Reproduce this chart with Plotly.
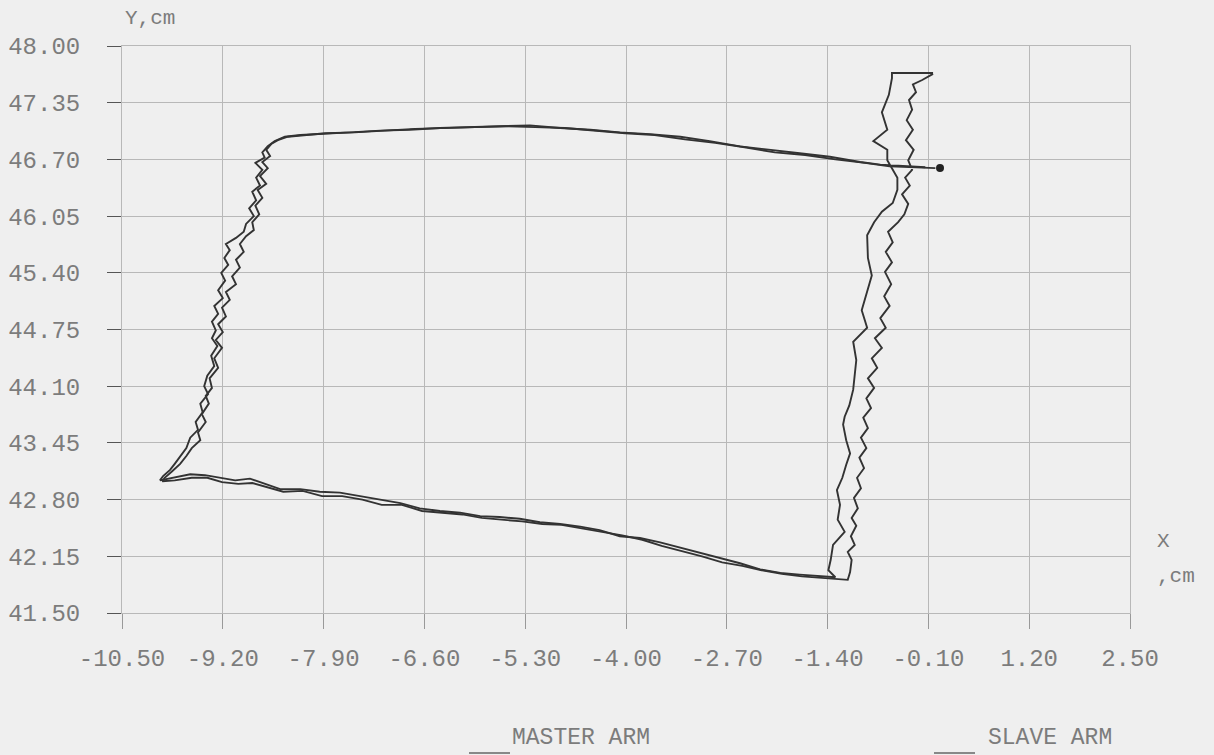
import plotly.graph_objects as go

# ---- axis ticks ----
x_ticks = [-10.50, -9.20, -7.90, -6.60, -5.30, -4.00, -2.70, -1.40, -0.10, 1.20, 2.50]
y_ticks = [41.50, 42.15, 42.80, 43.45, 44.10, 44.75, 45.40, 46.05, 46.70, 47.35, 48.00]
x_tick_text = ["-10.50", "-9.20", "-7.90", "-6.60", "-5.30", "-4.00", "-2.70", "-1.40", "-0.10", "1.20", "2.50"]
y_tick_text = ["41.50", "42.15", "42.80", "43.45", "44.10", "44.75", "45.40", "46.05", "46.70", "47.35", "48.00"]

# ---- MASTER ARM trajectory (cm) ----
master_x = [
    -0.14, -0.40, -0.72, -0.98, -1.37, -1.76, -2.14, -2.53, -2.92, -3.30, -3.69, -4.08, -4.46,
    -4.85, -5.24, -5.63, -6.01, -6.40, -6.79, -7.17, -7.56, -7.95, -8.20, -8.40, -8.53,
    -8.62, -8.69, -8.66, -8.78, -8.69, -8.77, -8.72, -8.82, -8.77, -8.86, -8.80, -8.90, -8.93,
    -9.03, -9.16, -9.11, -9.18, -9.13, -9.22, -9.17, -9.26, -9.20, -9.31, -9.26, -9.34, -9.29,
    -9.34, -9.27, -9.35, -9.31, -9.40, -9.44, -9.39, -9.49, -9.46, -9.55, -9.52, -9.62, -9.67,
    -9.75, -9.82, -9.88, -9.97, -10.01,
    -9.86, -9.62, -9.43, -9.24, -9.04, -8.85, -8.66, -8.46, -8.20, -7.95, -7.69, -7.43, -7.17,
    -6.91, -6.66, -6.40, -6.14, -5.88, -5.63, -5.37, -5.11, -4.85, -4.59, -4.34, -4.08, -3.82,
    -3.56, -3.30, -3.05, -2.79, -2.53, -2.27, -2.01, -1.76, -1.50, -1.30,
    -1.39, -1.36, -1.33, -1.18, -1.27, -1.24, -1.28, -1.21, -1.16, -1.11, -1.16, -1.20, -1.18,
    -1.12, -1.07, -1.05, -1.03, -1.07, -0.89, -0.96, -0.90, -0.83, -0.88, -0.89, -0.80, -0.70,
    -0.56, -0.50, -0.50, -0.56, -0.63, -0.63, -0.81, -0.63, -0.70, -0.61, -0.57, -0.57, -0.31, -0.04,
]
master_y = [
    46.61, 46.62, 46.64, 46.67, 46.73, 46.77, 46.81, 46.85, 46.91, 46.96, 46.99, 47.01, 47.04,
    47.06, 47.09, 47.08, 47.07, 47.06, 47.04, 47.03, 47.01, 46.99, 46.98, 46.96, 46.91,
    46.85, 46.78, 46.72, 46.66, 46.58, 46.49, 46.40, 46.33, 46.23, 46.14, 46.05, 45.96, 45.87,
    45.80, 45.73, 45.66, 45.57, 45.49, 45.40, 45.31, 45.20, 45.11, 45.02, 44.93, 44.84, 44.74,
    44.65, 44.56, 44.45, 44.33, 44.22, 44.10, 44.01, 43.90, 43.80, 43.69, 43.60, 43.51, 43.39,
    43.30, 43.21, 43.14, 43.07, 43.02,
    43.05, 43.09, 43.08, 43.05, 43.02, 43.04, 42.98, 42.92, 42.92, 42.89, 42.88, 42.84, 42.80,
    42.76, 42.70, 42.67, 42.65, 42.61, 42.60, 42.58, 42.54, 42.52, 42.49, 42.45, 42.38, 42.36,
    42.31, 42.25, 42.19, 42.13, 42.07, 42.00, 41.96, 41.94, 41.92, 41.91,
    41.99, 42.11, 42.28, 42.43, 42.57, 42.74, 42.91, 43.05, 43.20, 43.33, 43.48, 43.66, 43.75,
    43.88, 44.06, 44.23, 44.40, 44.61, 44.77, 44.97, 45.15, 45.37, 45.57, 45.83, 45.98, 46.10,
    46.20, 46.35, 46.49, 46.58, 46.69, 46.81, 46.91, 47.04, 47.24, 47.44, 47.63, 47.69, 47.69, 47.69,
]

# ---- SLAVE ARM trajectory (cm) ----
slave_x = [
    -0.01, -0.27, -0.60, -0.92, -1.30, -1.69, -2.08, -2.47, -2.85, -3.24, -3.63, -4.01, -4.40,
    -4.79, -5.17, -5.56, -5.95, -6.33, -6.72, -7.11, -7.50, -7.88, -8.14, -8.36, -8.49,
    -8.57, -8.64, -8.59, -8.69, -8.62, -8.72, -8.64, -8.75, -8.69, -8.78, -8.73, -8.82, -8.80,
    -8.90, -8.98, -8.93, -9.03, -8.98, -9.08, -9.03, -9.16, -9.11, -9.21, -9.16, -9.26, -9.20,
    -9.29, -9.21, -9.31, -9.26, -9.37, -9.34, -9.42, -9.38, -9.47, -9.42, -9.52, -9.49, -9.60,
    -9.67, -9.75, -9.86, -9.95, -9.98,
    -9.82, -9.60, -9.40, -9.21, -9.00, -8.82, -8.62, -8.42, -8.17, -7.92, -7.66, -7.40, -7.15,
    -6.89, -6.63, -6.37, -6.11, -5.86, -5.60, -5.34, -5.08, -4.83, -4.57, -4.31, -4.05, -3.79,
    -3.54, -3.28, -3.02, -2.76, -2.50, -2.25, -1.99, -1.73, -1.47, -1.24, -1.14,
    -1.11, -1.09, -1.14, -1.05, -1.10, -1.03, -1.09, -1.01, -1.06, -0.97, -1.02, -0.93, -0.99,
    -0.90, -0.97, -0.88, -0.94, -0.84, -0.90, -0.80, -0.88, -0.76, -0.83, -0.70, -0.79, -0.65,
    -0.72, -0.60, -0.67, -0.58, -0.66, -0.57, -0.65, -0.56, -0.62, -0.49, -0.41, -0.36, -0.44,
    -0.34, -0.40, -0.31, -0.36, -0.29, -0.39, -0.30, -0.38, -0.31, -0.35, -0.26, -0.30, -0.18, -0.04,
]
slave_y = [
    46.60, 46.61, 46.62, 46.66, 46.70, 46.75, 46.78, 46.84, 46.89, 46.93, 46.98, 47.00, 47.03,
    47.06, 47.07, 47.08, 47.07, 47.06, 47.05, 47.03, 47.01, 47.00, 46.98, 46.96, 46.92,
    46.88, 46.81, 46.74, 46.67, 46.60, 46.51, 46.42, 46.35, 46.26, 46.17, 46.07, 45.98, 45.89,
    45.82, 45.73, 45.64, 45.55, 45.46, 45.36, 45.27, 45.18, 45.09, 45.00, 44.90, 44.81, 44.72,
    44.63, 44.54, 44.42, 44.31, 44.19, 44.08, 43.99, 43.90, 43.78, 43.69, 43.57, 43.48, 43.39,
    43.30, 43.21, 43.12, 43.05, 43.01,
    43.02, 43.05, 43.05, 43.00, 42.98, 42.99, 42.94, 42.89, 42.90, 42.84, 42.84, 42.80, 42.74,
    42.74, 42.67, 42.65, 42.63, 42.59, 42.57, 42.55, 42.52, 42.51, 42.47, 42.43, 42.39, 42.34,
    42.27, 42.21, 42.15, 42.08, 42.04, 41.99, 41.95, 41.92, 41.90, 41.89, 41.88,
    41.97, 42.11, 42.20, 42.28, 42.38, 42.50, 42.59, 42.70, 42.82, 42.93, 43.05, 43.16, 43.28,
    43.39, 43.51, 43.62, 43.74, 43.85, 43.96, 44.08, 44.19, 44.31, 44.42, 44.54, 44.65, 44.77,
    44.88, 45.02, 45.13, 45.27, 45.41, 45.52, 45.64, 45.75, 45.87, 45.98, 46.07, 46.19, 46.30,
    46.40, 46.49, 46.58, 46.69, 46.81, 46.92, 47.04, 47.15, 47.27, 47.38, 47.47, 47.56, 47.61, 47.68,
]

# start point marker
start_x = [0.05]
start_y = [46.60]

LINE = "#333333"
GRID = "#b8b8b8"
TXT = "#7c7c7c"
FONT = "Liberation Mono, DejaVu Sans Mono, monospace"

fig = go.Figure()
fig.add_trace(go.Scatter(x=master_x, y=master_y, mode="lines", name="MASTER ARM",
                         line=dict(color=LINE, width=1.9), showlegend=False))
fig.add_trace(go.Scatter(x=slave_x, y=slave_y, mode="lines", name="SLAVE ARM",
                         line=dict(color=LINE, width=1.9), showlegend=False))
fig.add_trace(go.Scatter(x=start_x, y=start_y, mode="markers", name="start",
                         marker=dict(color="#222", size=8), showlegend=False))

fig.update_xaxes(range=[-10.5, 2.5], tickvals=x_ticks, ticktext=x_tick_text,
                 showgrid=True, gridcolor=GRID, gridwidth=1, zeroline=False,
                 showline=True, linecolor=GRID, mirror=True, automargin=False,
                 ticks="outside", ticklen=15, tickcolor="#999", tickwidth=1,
                 ticklabelstandoff=8,
                 tickfont=dict(family=FONT, size=24, color=TXT))
fig.update_yaxes(range=[41.5, 48.0], tickvals=y_ticks, ticktext=y_tick_text,
                 showgrid=True, gridcolor=GRID, gridwidth=1, zeroline=False,
                 showline=True, linecolor=GRID, mirror=True, automargin=False,
                 ticks="outside", ticklen=14, tickcolor="#555", tickwidth=1,
                 ticklabelstandoff=22,
                 tickfont=dict(family=FONT, size=24, color=TXT))

ann = dict(xref="paper", yref="paper", showarrow=False, xanchor="center", yanchor="middle",
           font=dict(family=FONT, size=21, color=TXT))
fig.add_annotation(text="Y,cm", x=(150 - 122) / 1008, y=1 + (46 - 19) / 567, **ann)
fig.add_annotation(text="X", x=(1163 - 122) / 1008, y=(613 - 541) / 567, **ann)
fig.add_annotation(text=",cm", x=(1176 - 122) / 1008, y=(613 - 576) / 567, **ann)
ann["font"] = dict(family=FONT, size=23, color=TXT)
fig.add_annotation(text="MASTER ARM", x=(581 - 122) / 1008, y=(613 - 738) / 567, **ann)
fig.add_annotation(text="SLAVE ARM", x=(1050 - 122) / 1008, y=(613 - 738) / 567, **ann)

for x0, x1 in [(469, 510), (934, 975)]:
    fig.add_shape(type="line", xref="paper", yref="paper",
                  x0=(x0 - 122) / 1008, x1=(x1 - 122) / 1008,
                  y0=(613 - 753) / 567, y1=(613 - 753) / 567,
                  line=dict(color="#666", width=1.5))

fig.update_layout(width=1214, height=755,
                  margin=dict(l=122, r=84, t=46, b=142, autoexpand=False),
                  paper_bgcolor="#efefef", plot_bgcolor="#efefef",
                  showlegend=False)

fig.write_html("out.html", config={"displayModeBar": False},
               post_script="document.body.style.margin='0';document.body.style.background='#efefef';")
